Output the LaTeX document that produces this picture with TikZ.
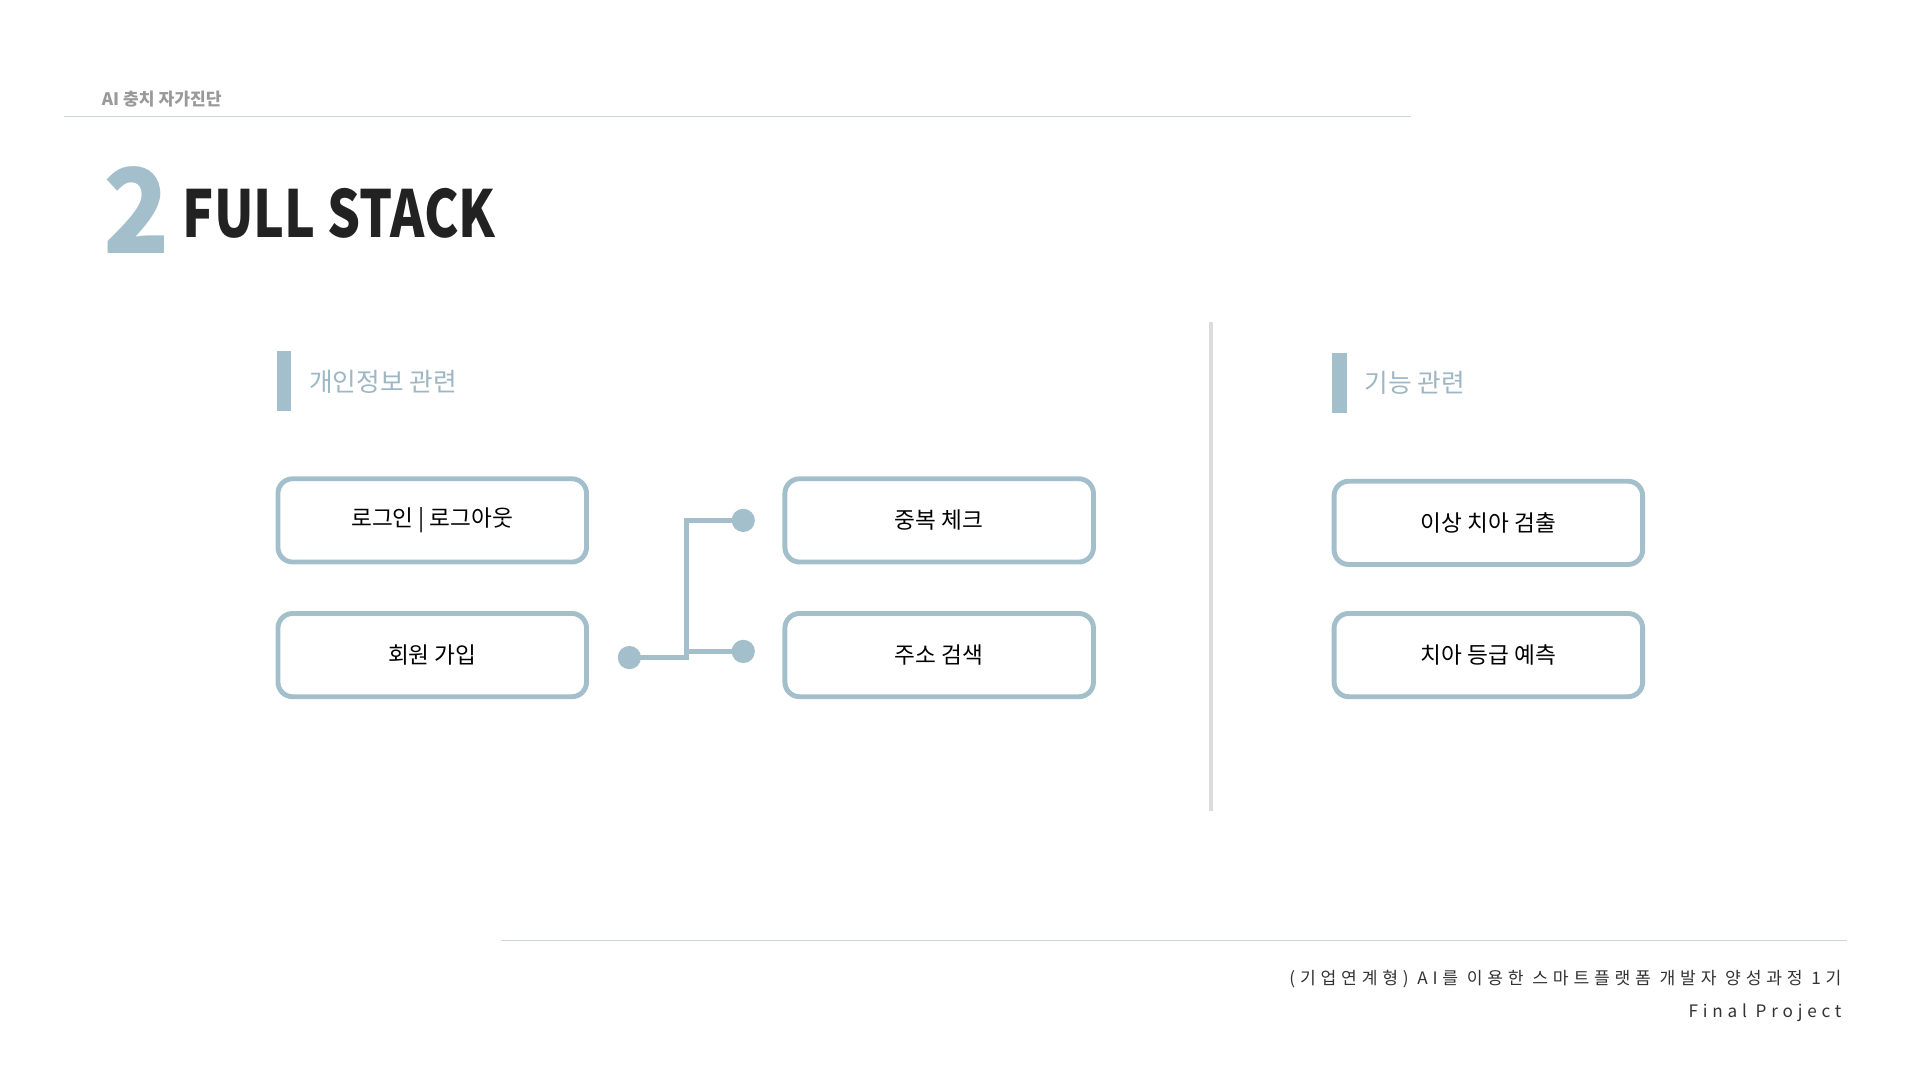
\documentclass[tikz,border=0pt]{standalone}
\usepackage{fontspec}
\setmainfont{Noto Sans CJK KR}
\IfFontExistsTF{Noto Sans CJK KR Black}
  {\newfontfamily\heavyfont{Noto Sans CJK KR Black}}
  {\newfontfamily\heavyfont{Noto Sans CJK KR}[UprightFont={* Bold}]}
\usetikzlibrary{positioning}

\definecolor{accent}{HTML}{A3BFCC}
\definecolor{sectext}{HTML}{9DB7C4}
\definecolor{rulegray}{HTML}{CDD5D9}
\definecolor{divgray}{HTML}{DCDCDC}
\definecolor{headgray}{HTML}{9A9A9A}
\definecolor{titleblack}{HTML}{222222}
\definecolor{foottext}{HTML}{333333}

\tikzset{
  itembox/.style={draw=accent, line width=4pt, rounded corners=12pt, fill=white,
    minimum width=252pt, minimum height=68pt, text=black,
    font=\fontsize{18.5}{21}\selectfont},
  secbar/.style={fill=accent, minimum width=12pt, minimum height=49pt, inner sep=0pt},
  sectitle/.style={text=sectext, font=\fontsize{21}{24}\selectfont, inner sep=0pt},
  joint/.style={circle, fill=accent, minimum size=19pt, inner sep=0pt},
  link/.style={draw=accent, line width=4pt},
  foot/.style={text=foottext, inner sep=0pt, anchor=base east,
    font=\fontsize{14}{16}\selectfont\addfontfeature{LetterSpace=28}},
}

\begin{document}
\begin{tikzpicture}[x=1pt, y=-1pt]
    \fill[white] (0,0) rectangle (1568,882);
    \useasboundingbox (0,0) rectangle (1568,882);

    % header
    \node[anchor=base west, inner sep=0pt, text=headgray, font=\bfseries\fontsize{14}{16}\selectfont] (head) at (83,86) {AI 충치 자가진단};
    \draw[rulegray, line width=1pt] (52,95) -- (1152,95);

    % title
    \node[anchor=base west, inner sep=0pt, text=accent, font=\heavyfont\fontsize{96}{100}\selectfont] (num) at (84,207) {\scalebox{0.93}[1]{2}};
    \node[anchor=base west, inner sep=0pt, text=titleblack, font=\heavyfont\fontsize{53}{56}\selectfont] (title) at (149,194) {\scalebox{0.8}[1]{FULL STACK}};

    % divider
    \draw[divgray, line width=3pt] (989,263) -- (989,662);

    % section heads
    \node[secbar] (bar1) at (232,311.5) {};
    \node[sectitle, right=14pt of bar1] (sec1) {개인정보 관련};
    \node[secbar] (bar2) at (1094,312.5) {};
    \node[sectitle, right=14pt of bar2] (sec2) {기능 관련};

    % boxes
    \node[itembox] (login) at (353,425) {로그인 | 로그아웃};
    \node[itembox] (join) at (353,535) {회원 가입};
    \node[itembox] (dup) at (767,425) {중복 체크};
    \node[itembox] (addr) at (767,535) {주소 검색};
    \node[itembox] (detect) at (1215.5,427) {이상 치아 검출};
    \node[itembox] (grade) at (1215.5,535) {치아 등급 예측};

    % connector
    \node[joint] (jjoin) at (514,537) {};
    \node[joint] (jdup) at (607,425) {};
    \node[joint] (jaddr) at (607,532) {};
    \coordinate (split) at (561,537);
    \draw[link] (jjoin.center) -- (split) -- (split |- jdup) -- (jdup.center);
    \draw[link] (split |- jaddr) -- (jaddr.center);

    % footer
    \draw[rulegray, line width=1pt] (409,768) -- (1508,768);
    \node[foot] (course) at (1504,804) {(기업연계형) AI를 이용한 스마트플랫폼 개발자 양성과정 1기};
    \node[foot] (proj) at (1504,831) {Final Project};
\end{tikzpicture}
\end{document}
